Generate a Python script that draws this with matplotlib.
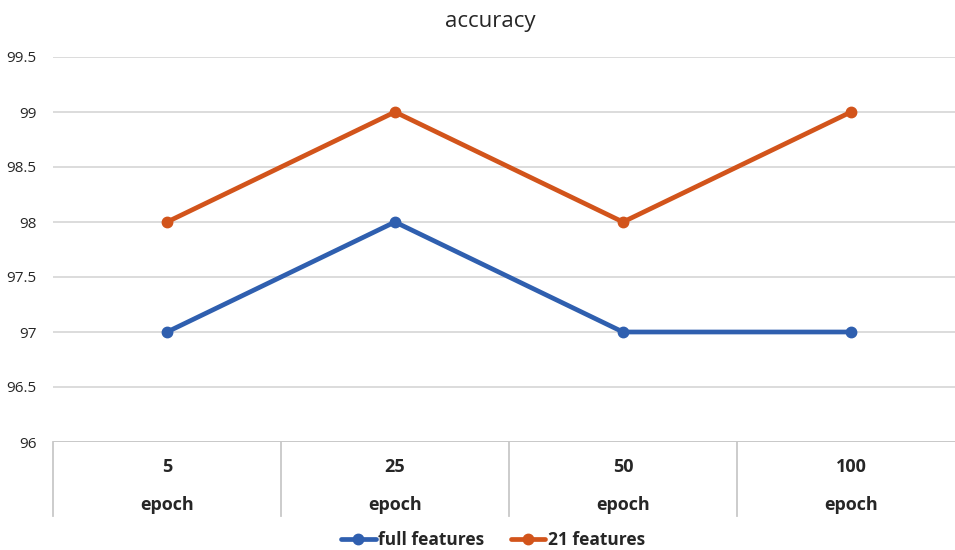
import matplotlib
matplotlib.use("Agg")
import matplotlib.pyplot as plt
import matplotlib.transforms as mtransforms
from matplotlib.lines import Line2D

plt.rcParams['font.family'] = ['Open Sans', 'DejaVu Sans']

epochs = ["5", "25", "50", "100"]
unit_label = "epoch"
full_features = [97, 98, 97, 97]
features_21 = [98, 99, 98, 99]
y_ticks = [96, 96.5, 97, 97.5, 98, 98.5, 99, 99.5]
y_tick_labels = ["96", "96.5", "97", "97.5", "98", "98.5", "99", "99.5"]

blue = "#2f5faf"
orange = "#d2541b"
grid_c = "#d9d9d9"
text_c = "#262626"

fig = plt.figure(figsize=(9.55, 5.5), dpi=100)
ax = fig.add_axes([53 / 955, 1 - 442 / 550, 912 / 955, 385 / 550])

x = list(range(len(epochs)))
ax.plot(x, full_features, color=blue, lw=3.4, marker="o", ms=7.5, label="full features",
        solid_capstyle="round", zorder=3)
ax.plot(x, features_21, color=orange, lw=3.4, marker="o", ms=7.5, label="21 features",
        solid_capstyle="round", zorder=3)

ax.set_xlim(-0.5, len(epochs) - 0.5)
ax.set_ylim(96, 99.5)
ax.set_yticks(y_ticks)
ax.set_yticklabels(y_tick_labels)
ax.tick_params(axis="y", length=0, pad=12, labelsize=11, labelcolor=text_c)
ax.set_xticks([])
ax.yaxis.grid(True, color=grid_c, lw=1.3)
ax.set_axisbelow(True)
for s in ax.spines.values():
    s.set_visible(False)
ax.axhline(96, color="#c8c8c8", lw=1.3, zorder=2)

# Two-level category axis with separators
trans = mtransforms.blended_transform_factory(ax.transData, ax.transAxes)
depth = 74 / 385
for b in [i - 0.5 for i in range(len(epochs) + 1)]:
    ax.add_line(Line2D([b, b], [0, -depth], transform=trans, color="#c8c8c8", lw=1.3,
                       clip_on=False))
for i, lab in enumerate(epochs):
    ax.text(i, -25 / 385, lab, transform=trans, ha="center", va="center",
            fontsize=13, fontweight="bold", color=text_c)
    ax.text(i, -63 / 385, unit_label, transform=trans, ha="center", va="center",
            fontsize=13, fontweight="bold", color=text_c)

fig.text(490 / 955, 1 - 21 / 550, "accuracy", ha="center", va="center",
         fontsize=16, color=text_c)

fig.legend(loc="center", bbox_to_anchor=(493 / 955, 1 - 540 / 550), ncol=2, frameon=False,
           prop={"size": 12.5, "weight": "bold"}, handlelength=2.0, handletextpad=0.15,
           columnspacing=1.5, labelcolor=text_c, borderpad=0.0)

fig.savefig("out.png", dpi=100)
